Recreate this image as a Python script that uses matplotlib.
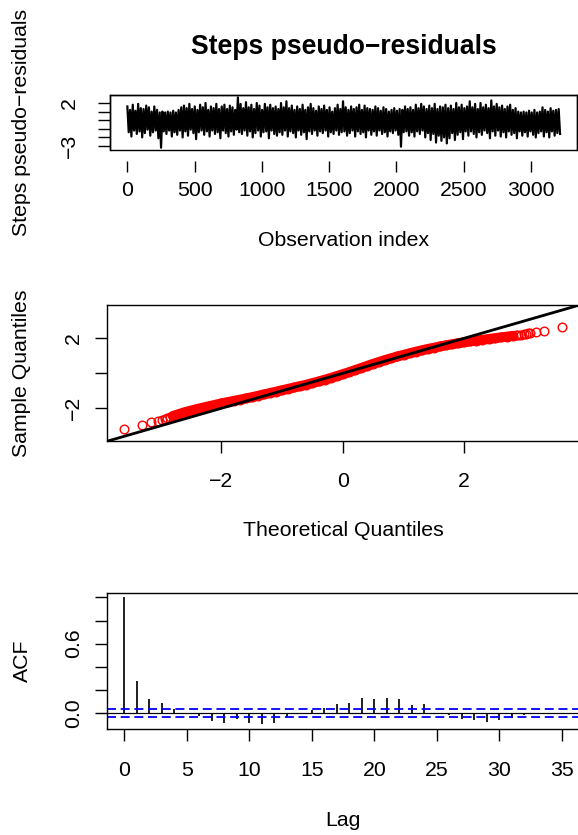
import numpy as np
import matplotlib
matplotlib.use("Agg")
import matplotlib.pyplot as plt
from matplotlib.patches import Rectangle

plt.rcParams['font.family'] = ['Liberation Sans', 'DejaVu Sans']

W, H, DPI = 578, 835, 100
FS = 15.3
TITLE_FS = 19.1
PT = 72.0 / DPI  # points per pixel

# ---------------- data ----------------
# pseudo-residuals of the step lengths (read off the picture, one value per ~10 observations)
steps_resid = [
    1.6, -1.4, 1.2, -1.9, 1.8, -1.2, 1.1, -1.6, 1.9, -1.3, 1.4, -2.0, 1.3, -1.5,
    1.7, -1.1, 1.5, -1.8, 1.0, -1.4, 1.6, -1.2, 1.2, -2.1, 0.9, -3.2, 1.0, -1.3,
    0.9, -1.6, 1.0, -1.2, 0.9, -1.9, 1.1, -1.4, 0.9, -1.7, 1.2, -1.2, 1.5, -2.0,
    1.7, -1.3, 1.4, -1.8, 1.9, -1.1, 1.3, -1.5, 1.6, -2.2, 1.2, -1.4, 1.8, -1.2,
    1.5, -1.7, 2.0, -1.3, 1.2, -1.9, 1.6, -1.2, 1.4, -1.6, 1.9, -1.4, 1.3, -2.1,
    1.6, -1.2, 1.8, -1.5, 1.3, -1.9, 1.7, -1.3, 1.5, -1.7, 1.2, -1.1, 2.66, -1.4,
    1.9, -1.6, 1.4, -1.2, 2.1, -1.8, 1.5, -1.3, 1.8, -2.0, 1.3, -1.5, 2.0, -1.2,
    1.7, -1.9, 1.2, -1.4, 1.9, -1.3, 1.5, -2.1, 1.8, -1.2, 1.4, -1.6, 1.6, -1.8,
    1.3, -1.4, 2.0, -1.7, 1.5, -1.2, 2.2, -1.9, 1.4, -1.3, 1.7, -1.5, 1.2, -2.0,
    1.6, -1.2, 1.3, -1.7, 1.8, -1.4, 1.2, -2.2, 1.5, -1.3, 1.9, -1.6, 1.4, -1.2,
    1.1, -1.8, 1.6, -1.3, 1.3, -1.5, 1.7, -1.2, 1.2, -1.9, 1.5, -1.4, 1.0, -1.6,
    1.4, -1.2, 1.8, -1.7, 1.3, -1.4, 2.2, -1.3, 1.5, -1.8, 1.2, -1.5, 1.6, -1.2,
    1.3, -1.9, 1.5, -1.3, 1.8, -1.6, 1.2, -1.4, 1.7, -2.0, 1.4, -1.2, 1.3, -1.7,
    1.2, -1.3, 1.6, -1.8, 1.4, -1.2, 1.1, -1.6, 1.5, -1.4, 1.3, -1.9, 1.0, -1.3,
    1.2, -1.5, 1.4, -1.2, 1.1, -1.7, 1.3, -3.08, 1.2, -1.4, 1.6, -1.3, 1.3, -1.8,
    1.5, -1.4, 1.2, -1.9, 1.8, -1.3, 1.4, -1.6, 1.9, -1.2, 1.6, -2.0, 1.3, -1.5,
    1.7, -2.3, 1.4, -1.6, 1.9, -2.6, 1.3, -1.8, 1.6, -2.4, 1.5, -2.0, 1.8, -2.7,
    1.4, -2.1, 1.7, -1.5, 1.3, -2.3, 2.0, -1.7, 1.5, -1.4, 1.8, -2.2, 1.4, -1.3,
    1.6, -1.8, 2.2, -1.3, 1.5, -1.6, 1.9, -2.0, 1.3, -1.4, 2.0, -1.7, 1.5, -1.2,
    1.8, -1.5, 1.4, -2.1, 2.3, -1.3, 1.6, -1.8, 1.9, -1.2, 1.5, -1.9, 1.7, -1.4,
    1.3, -2.0, 1.6, -1.3, 1.8, -1.7, 1.2, -1.5, 1.4, -2.1, 1.0, -1.3, 0.9, -1.8,
    1.0, -1.4, 0.9, -1.9, 1.1, -1.3, 0.9, -1.7, 1.2, -2.0, 0.9, -1.5, 1.0, -1.3,
    1.5, -1.9, 1.2, -1.4, 1.0, -2.0, 1.4, -1.3, 1.1, -1.8, 1.2, -1.5, 1.3, -1.6,
]
n_obs = 3216
obs_index = np.linspace(1, n_obs, len(steps_resid))
obs_ticks = [0, 500, 1000, 1500, 2000, 2500, 3000]
resid_ticks = [-3, -2, -1, 0, 1, 2]
resid_ticklabels = ['\u22123', '', '', '', '', '2']

# QQ plot: theoretical vs sample quantiles
qq_theoretical = [
    -3.61, -3.31, -3.16, -3.05, -2.98, -2.93, -2.89, -2.85,
    -2.8, -2.7, -2.6, -2.5, -2.4, -2.3, -2.2, -2.1, -2.0, -1.9, -1.8, -1.7,
    -1.6, -1.5, -1.4, -1.3, -1.2, -1.1, -1.0, -0.9, -0.8, -0.7, -0.6, -0.5,
    -0.4, -0.3, -0.2, -0.1, 0.0, 0.1, 0.2, 0.3, 0.4, 0.5, 0.6, 0.7, 0.8,
    0.9, 1.0, 1.1, 1.2, 1.3, 1.4, 1.5, 1.6, 1.7, 1.8, 1.9, 2.0, 2.1, 2.2,
    2.3, 2.4, 2.5, 2.6, 2.7, 2.8,
    2.85, 2.89, 2.93, 2.98, 3.02, 3.05, 3.09, 3.18, 3.32, 3.61,
]
qq_sample = [
    -3.18, -2.94, -2.80, -2.73, -2.65, -2.59, -2.54, -2.49,
    -2.44, -2.33, -2.22, -2.13, -2.04, -1.96, -1.88, -1.80, -1.72, -1.65, -1.58, -1.51,
    -1.44, -1.37, -1.29, -1.21, -1.13, -1.05, -0.97, -0.89, -0.81, -0.73, -0.65, -0.56,
    -0.47, -0.37, -0.27, -0.16, -0.05, 0.06, 0.18, 0.30, 0.42, 0.54, 0.65, 0.76, 0.86,
    0.96, 1.05, 1.14, 1.23, 1.31, 1.39, 1.46, 1.53, 1.60, 1.66, 1.72, 1.77, 1.82, 1.87,
    1.91, 1.96, 2.00, 2.05, 2.09, 2.14,
    2.16, 2.19, 2.21, 2.25, 2.27, 2.29, 2.32, 2.34, 2.43, 2.66,
]
qq_ticks = [-2, 0, 2]
qq_yticklabels = ['\u22122', '', '2']
qq_xticklabels = ['\u22122', '0', '2']

# ACF of the pseudo-residuals
acf_lags = list(range(36))
acf_values = [
    1.0, 0.277, 0.121, 0.084, 0.032, -0.008, -0.026, -0.066, -0.084, -0.055,
    -0.084, -0.098, -0.084, -0.038, -0.010, 0.026, 0.046, 0.075, 0.087, 0.127,
    0.118, 0.127, 0.120, 0.069, 0.075, 0.004, -0.017, -0.055, -0.061, -0.075,
    -0.061, -0.042, -0.020, -0.010, -0.004, -0.002,
]
acf_ci = 0.0346
acf_xticks = [0, 5, 10, 15, 20, 25, 30, 35]
acf_yticks = [0.0, 0.2, 0.4, 0.6, 0.8, 1.0]
acf_yticklabels = ['0.0', '', '', '0.6', '', '']

# ---------------- figure ----------------
fig = plt.figure(figsize=(W / DPI, H / DPI), dpi=DPI)


def px_axes(left, top, right, bottom):
    return fig.add_axes([left / W, 1 - bottom / H, (right - left) / W, (bottom - top) / H])


def style(ax, ypad_px=11.6, xpad_px=19.4, xlen_px=12):
    for s in ax.spines.values():
        s.set_linewidth(1.0)
        s.set_color('black')
    ax.tick_params(axis='both', direction='out', length=12 * PT, width=1.0,
                   labelsize=FS, colors='black')
    ax.tick_params(axis='y', pad=ypad_px * PT)
    ax.tick_params(axis='x', pad=xpad_px * PT, length=xlen_px * PT)
    for lab in ax.get_yticklabels():
        lab.set_rotation(90)
        lab.set_va('center')


def ftext(x, y, s, **kw):
    fig.text(x / W, 1 - y / H, s, ha='center', va='center', fontsize=FS, **kw)


# --- panel 1: time series of pseudo-residuals ---
ax1 = px_axes(110, 95, 577.4, 150)
ax1.plot(obs_index, steps_resid, color='black', lw=2.2 * PT)
ax1.set_xlim(-128, 3345)
ax1.set_ylim(-3.465, 2.93)
ax1.set_xticks(obs_ticks)
ax1.set_xticklabels([str(t) for t in obs_ticks])
ax1.set_yticks(resid_ticks)
ax1.set_yticklabels(resid_ticklabels)
style(ax1, ypad_px=19, xpad_px=9.4, xlen_px=11)
# x axis of this panel sits a little below the box
ax1.spines['bottom'].set_position(('outward', 11 * PT))
ax1.spines['bottom'].set_visible(False)
ax1.add_patch(Rectangle((0, 0), 1, 1, transform=ax1.transAxes, fill=False,
                        lw=1.0, ec='black', clip_on=False, zorder=5))
fig.text(343.5 / W, 1 - 47 / H, 'Steps pseudo\u2212residuals', ha='center', va='center',
         fontsize=TITLE_FS, fontweight='bold')
ftext(22, 122.5, 'Steps pseudo\u2212residuals', rotation=90)
ftext(343.5, 240, 'Observation index')

# --- panel 2: QQ plot ---
ax2 = px_axes(106.7, 305, 579, 441)
qx = np.array(qq_theoretical)
qy = np.array(qq_sample)
dense = np.abs(qx) <= 2.81
ax2.plot(qx[dense], qy[dense], color='red', lw=10 * PT, solid_capstyle='round', zorder=2)
ax2.plot(qx, qy, 'o', mfc='none', mec='red', ms=8.6 * PT, mew=1.4 * PT, zorder=3)
ax2.axline((0, 0), slope=1, color='black', lw=2.8 * PT, zorder=4)
ax2.set_xlim(-3.89, 3.89)
ax2.set_ylim(-3.87, 3.9)
ax2.set_xticks(qq_ticks)
ax2.set_xticklabels(qq_xticklabels)
ax2.set_yticks(qq_ticks)
ax2.set_yticklabels(qq_yticklabels)
style(ax2)
ftext(22, 373, 'Sample Quantiles', rotation=90)
ftext(343, 531, 'Theoretical Quantiles')

# --- panel 3: ACF ---
ax3 = px_axes(106.7, 593.3, 579.3, 729.3)
ax3.vlines(acf_lags, 0, acf_values, color='black', lw=1.7 * PT)
ax3.axhline(0, color='black', lw=1.2 * PT)
for c in (acf_ci, -acf_ci):
    ax3.axhline(c, color='#0000FF', lw=1.8 * PT, dashes=(5.0, 2.6))
ax3.set_xlim(-1.41, 36.4)
ax3.set_ylim(-0.141, 1.036)
ax3.set_xticks(acf_xticks)
ax3.set_xticklabels([str(t) for t in acf_xticks])
ax3.set_yticks(acf_yticks)
ax3.set_yticklabels(acf_yticklabels)
style(ax3)
ftext(22, 661, 'ACF', rotation=90)
ftext(343, 820, 'Lag')

fig.savefig('out.png', dpi=DPI)
